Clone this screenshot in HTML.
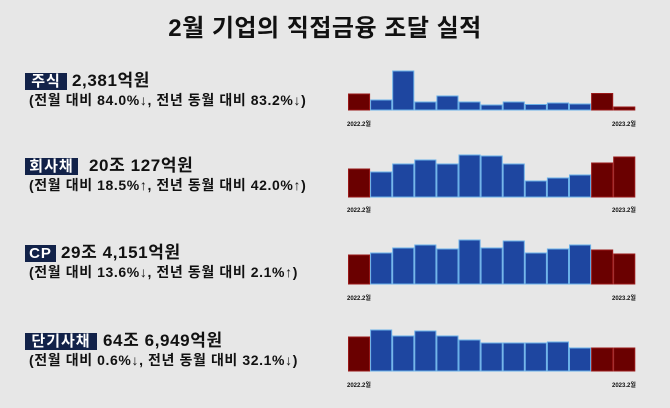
<!DOCTYPE html>
<html><head><meta charset="utf-8"><style>
body{margin:0;width:670px;height:408px;background:#e7e7e7;position:relative;overflow:hidden;font-family:"Liberation Sans","Noto Sans CJK KR","NanumGothic",sans-serif;color:#111}
.t{position:absolute;white-space:nowrap;font-weight:bold}
.title{left:0;width:650px;text-align:center;top:8px;font-size:24px;letter-spacing:0.5px}
.lab{position:absolute;background:#122249;color:#fff;font-size:15px;font-weight:bold;height:17px;line-height:17px;text-align:center;white-space:nowrap;letter-spacing:1px}
.v{font-size:17px;line-height:18px;letter-spacing:0.6px}
.s{font-size:14px;line-height:15px;letter-spacing:0.6px}
.ax{font-size:6px;font-weight:bold}
svg{position:absolute;left:0;top:0}
</style></head><body>
<div class="t title">2월 기업의 직접금융 조달 실적</div>

<div class="lab" style="left:25px;top:73px;width:42px;">주식</div>
<div class="t v" style="left:72px;top:72px;">2,381억원</div>
<div class="t s" style="left:29px;top:93px;">(전월 대비 84.0%↓, 전년 동월 대비 83.2%↓)</div>

<div class="lab" style="left:25px;top:158px;width:53px;">회사채</div>
<div class="t v" style="left:89px;top:157px;">20조 127억원</div>
<div class="t s" style="left:29px;top:178px;">(전월 대비 18.5%↑, 전년 동월 대비 42.0%↑)</div>

<div class="lab" style="left:25px;top:245px;width:31px;">CP</div>
<div class="t v" style="left:61px;top:244px;">29조 4,151억원</div>
<div class="t s" style="left:29px;top:265px;">(전월 대비 13.6%↓, 전년 동월 대비 2.1%↑)</div>

<div class="lab" style="left:25px;top:333px;width:72px;">단기사채</div>
<div class="t v" style="left:103px;top:332px;">64조 6,949억원</div>
<div class="t s" style="left:29px;top:353px;">(전월 대비 0.6%↓, 전년 동월 대비 32.1%↓)</div>

<div class="t ax" style="left:347px;top:119px;">2022.2월</div>
<div class="t ax" style="left:612px;top:119px;">2023.2월</div>
<div class="t ax" style="left:347px;top:205px;">2022.2월</div>
<div class="t ax" style="left:612px;top:205px;">2023.2월</div>
<div class="t ax" style="left:347px;top:293px;">2022.2월</div>
<div class="t ax" style="left:612px;top:293px;">2023.2월</div>
<div class="t ax" style="left:347px;top:380px;">2022.2월</div>
<div class="t ax" style="left:612px;top:380px;">2023.2월</div>

<svg id="g" width="670" height="408" xmlns="http://www.w3.org/2000/svg"></svg>
<script>
var charts=[
[110,[94,100,71,102,96,102,105,102,104.5,103,104,93.5,107]],
[197,[169,172,164,160,164,155,156,164,181,178,175,163,157]],
[284,[255,253,248,245,249,240,248,241,253,249,245,250,254]],
[371,[337,330,336,331,336,340,343,343,343,342,348,348,348]]];
var s='';
charts.forEach(function(c){
 var b=c[0];
 c[1].forEach(function(t,i){
  var x=348+i*22.1, red=(i==0||i>=11);
  s+='<rect x="'+(x+0.5)+'" y="'+t+'" width="21.1" height="'+(b-t)+'" fill="'+(red?'#6a0000':'#1e46a0')+'" stroke="'+(red?'#9a1818':'#6ab0e8')+'" stroke-width="1"/>';
 });
});
document.getElementById('g').innerHTML=s;
</script>
</body></html>
